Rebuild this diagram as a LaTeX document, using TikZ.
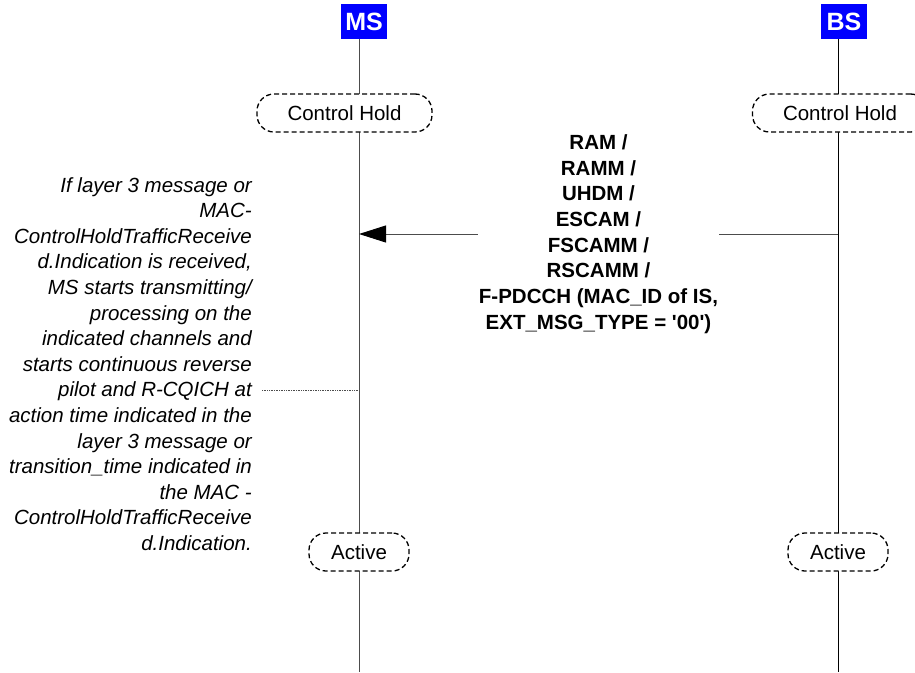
\documentclass[tikz,border=0pt]{standalone}
\usepackage{fontspec}
\setmainfont{Liberation Sans}
\usetikzlibrary{arrows.meta,positioning}

\begin{document}
\begin{tikzpicture}[
    x=1pt, y=-1pt,
    entity/.style={fill=blue, text=white, font=\fontsize{25}{30}\selectfont\bfseries, minimum width=46pt, minimum height=35pt, inner sep=0pt},
    lifeline/.style={line width=1pt, draw=black!70},
    statebox/.style={draw, dash pattern=on 5pt off 3pt, line width=1.3pt, rounded corners=17pt, fill=white, minimum height=38pt, font=\fontsize{20.5}{24}\selectfont},
    msg/.style={draw=black!70, line width=1pt, -{Triangle[length=27pt,width=17pt,color=black]}},
    msglabel/.style={fill=white, inner sep=1pt, align=center, font=\fontsize{20.5}{25.7}\selectfont\bfseries},
    note/.style={align=right, inner sep=0pt, font=\fontsize{20.5}{25.6}\selectfont\itshape},
    noteline/.style={draw=black!70, line width=0.7pt, densely dotted}
]
    \useasboundingbox (0,0) rectangle (915,672);

    % Entities
    \node[entity] (ms) at (364,21.5) {MS};
    \node[entity] (bs) at (844,21.5) {BS};

    % Lifelines
    \coordinate (msEnd) at (359,672);
    \coordinate (bsEnd) at (838,672);
    \draw[lifeline] (ms.south -| msEnd) -- (msEnd);
    \draw[lifeline, draw=black] (bs.south -| bsEnd) -- (bsEnd);

    % States
    \node[statebox, minimum width=175pt] (msHold) at (344.5,113) {Control Hold};
    \node[statebox, minimum width=175pt] (bsHold) at (840,113) {Control Hold};
    \node[statebox, minimum width=100pt] (msActive) at (359,552) {Active};
    \node[statebox, minimum width=100pt] (bsActive) at (838,552) {Active};

    % Message
    \coordinate (bsMsg) at (838,234);
    \coordinate (msMsg) at (359,234);
    \draw[msg] (bsMsg) -- node[msglabel] (msgText) {RAM /\\RAMM /\\UHDM /\\ESCAM /\\FSCAMM /\\RSCAMM /\\F-PDCCH (MAC\_ID of IS,\\EXT\_MSG\_TYPE = \textquotesingle 00\textquotesingle)} (msMsg);

    % Note
    \node[note, anchor=east] (noteText) at (252,364) {If layer 3 message or\\MAC-\\ControlHoldTrafficReceive\\d.Indication is received,\\MS starts transmitting/\\processing on the\\indicated channels and\\starts continuous reverse\\pilot and R-CQICH at\\action time indicated in the\\layer 3 message or\\transition\_time indicated in\\the MAC -\\ControlHoldTrafficReceive\\d.Indication.};
    \coordinate (noteEnd) at (262,390);
    \coordinate (msNote) at (359,390);
    \draw[noteline] (noteEnd) -- (msNote);
\end{tikzpicture}
\end{document}
